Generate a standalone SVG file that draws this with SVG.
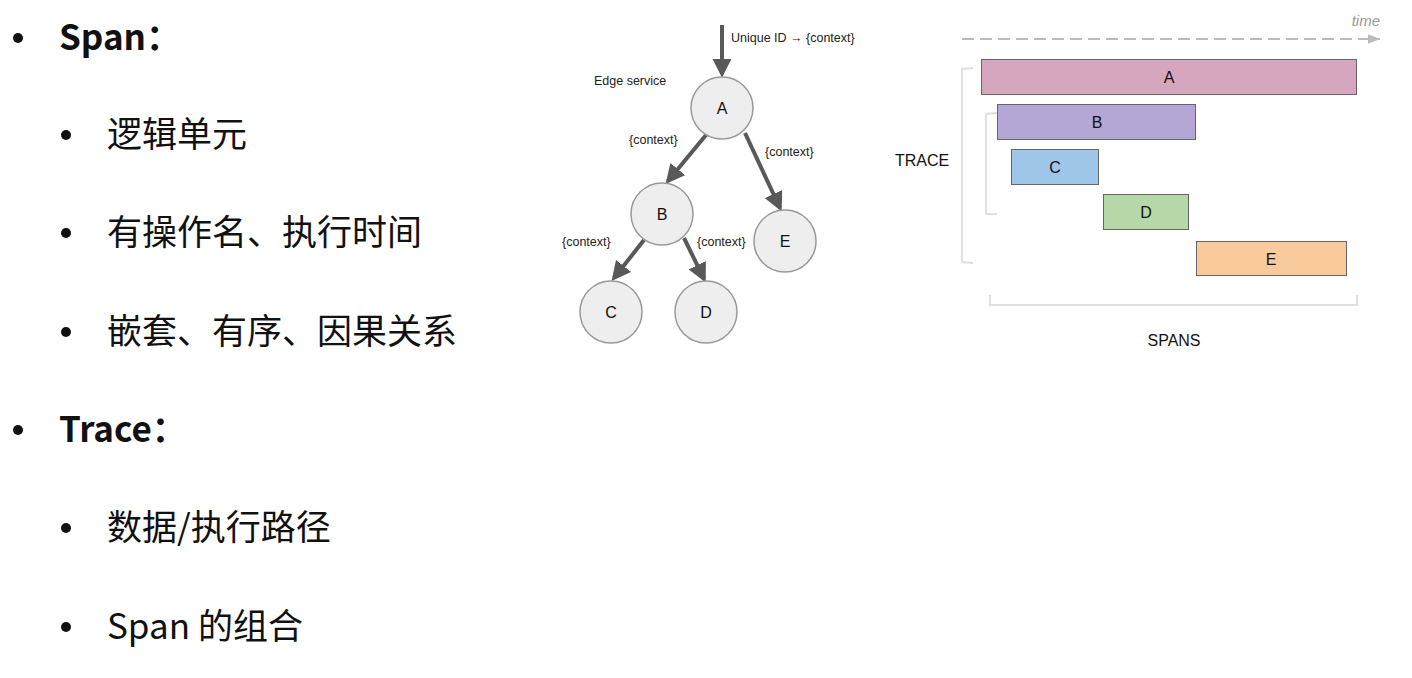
<svg xmlns="http://www.w3.org/2000/svg" width="1412" height="678" viewBox="0 0 1412 678">
<defs>
<style>
.t1{font-family:"Noto Sans CJK SC","Noto Sans",sans-serif;font-size:35px;fill:#111}
.b{font-weight:bold}
.sm{font-family:"Liberation Sans",Arial,sans-serif;font-size:12.5px;fill:#222}
.nl{font-family:"Liberation Sans",Arial,sans-serif;font-size:16px;fill:#111;text-anchor:middle}
.node{fill:#eeeeee;stroke:#999;stroke-width:1.5}
.edge{stroke:#595959;stroke-width:4;fill:none}
.bar{stroke:#666;stroke-width:1}
.brk{stroke:#e0e0e0;stroke-width:2;fill:none}
</style>
<marker id="ah" viewBox="0 0 10 10" refX="8" refY="5" markerWidth="4.8" markerHeight="4.8" orient="auto" markerUnits="strokeWidth">
<path d="M0,0 L10,5 L0,10 z" fill="#595959"/>
</marker>
<marker id="ta" viewBox="0 0 10 10" refX="10" refY="5" markerWidth="6" markerHeight="6" orient="auto" markerUnits="strokeWidth">
<path d="M0,1 L10,5 L0,9 z" fill="#bbb"/>
</marker>
</defs>
<rect width="1412" height="678" fill="#fff"/>

<g id="bullets">
<circle cx="18" cy="38" r="5" fill="#111"/>
<text class="t1 b" x="59" y="50">Span：</text>
<circle cx="66" cy="135" r="5" fill="#111"/>
<text class="t1" x="107" y="147">逻辑单元</text>
<circle cx="66" cy="233" r="5" fill="#111"/>
<text class="t1" x="107" y="245">有操作名、执行时间</text>
<circle cx="66" cy="332" r="5" fill="#111"/>
<text class="t1" x="107" y="344">嵌套、有序、因果关系</text>
<circle cx="18" cy="430" r="5" fill="#111"/>
<text class="t1 b" x="59" y="442">Trace：</text>
<circle cx="66" cy="528" r="5" fill="#111"/>
<text class="t1" x="107" y="540">数据/执行路径</text>
<circle cx="66" cy="627" r="5" fill="#111"/>
<text class="t1" x="107" y="639">Span 的组合</text>
</g>

<g id="connectors">
<line class="edge" x1="722" y1="25" x2="722" y2="74" marker-end="url(#ah)"/>
<line class="edge" x1="706" y1="135" x2="668" y2="181" marker-end="url(#ah)"/>
<line class="edge" x1="745" y1="133" x2="780" y2="208" marker-end="url(#ah)"/>
<line class="edge" x1="644" y1="240" x2="614" y2="278" marker-end="url(#ah)"/>
<line class="edge" x1="684" y1="238" x2="704" y2="279" marker-end="url(#ah)"/>
</g>

<g id="edge-labels">
<text class="sm" x="731" y="42">Unique ID → {context}</text>
<text class="sm" x="594" y="85">Edge service</text>
<text class="sm" x="629" y="144">{context}</text>
<text class="sm" x="765" y="156">{context}</text>
<text class="sm" x="562" y="246">{context}</text>
<text class="sm" x="697" y="246">{context}</text>
</g>

<g id="node-A"><circle class="node" cx="722" cy="108" r="31"/><text class="nl" x="722" y="114">A</text></g>
<g id="node-B"><circle class="node" cx="662" cy="214" r="31"/><text class="nl" x="662" y="220">B</text></g>
<g id="node-E"><circle class="node" cx="785" cy="241" r="31"/><text class="nl" x="785" y="247">E</text></g>
<g id="node-C"><circle class="node" cx="611" cy="312" r="31"/><text class="nl" x="611" y="318">C</text></g>
<g id="node-D"><circle class="node" cx="706" cy="312" r="31"/><text class="nl" x="706" y="318">D</text></g>

<g id="timeline">
<line x1="962" y1="39" x2="1380" y2="39" stroke="#bbb" stroke-width="2" stroke-dasharray="12,6" marker-end="url(#ta)"/>
<text x="1380" y="26" font-family="Liberation Sans,Arial,sans-serif" font-size="15" font-style="italic" fill="#999" text-anchor="end">time</text>
</g>

<g id="brackets">
<path class="brk" d="M973,68 L962,69 L962,262 L973,263"/>
<path class="brk" d="M997,113 L986,114 L986,214 L997,214"/>
<path class="brk" d="M990,295 L990,305 L1357,305 L1357,295"/>
<text class="nl" x="922" y="166">TRACE</text>
<text class="nl" x="1174" y="346">SPANS</text>
</g>

<g id="span-A"><rect class="bar" x="981.5" y="59.5" width="375" height="35" fill="#d5a6bd"/><text class="nl" x="1169" y="83">A</text></g>
<g id="span-B"><rect class="bar" x="997.5" y="104.5" width="198" height="35" fill="#b4a7d6"/><text class="nl" x="1097" y="128">B</text></g>
<g id="span-C"><rect class="bar" x="1011.5" y="149.5" width="87" height="35" fill="#9fc5e8"/><text class="nl" x="1055" y="173">C</text></g>
<g id="span-D"><rect class="bar" x="1103.5" y="194.5" width="85" height="35" fill="#b6d7a8"/><text class="nl" x="1146" y="218">D</text></g>
<g id="span-E"><rect class="bar" x="1196.5" y="241.5" width="150" height="34" fill="#f9cb9c"/><text class="nl" x="1271" y="265">E</text></g>
</svg>
